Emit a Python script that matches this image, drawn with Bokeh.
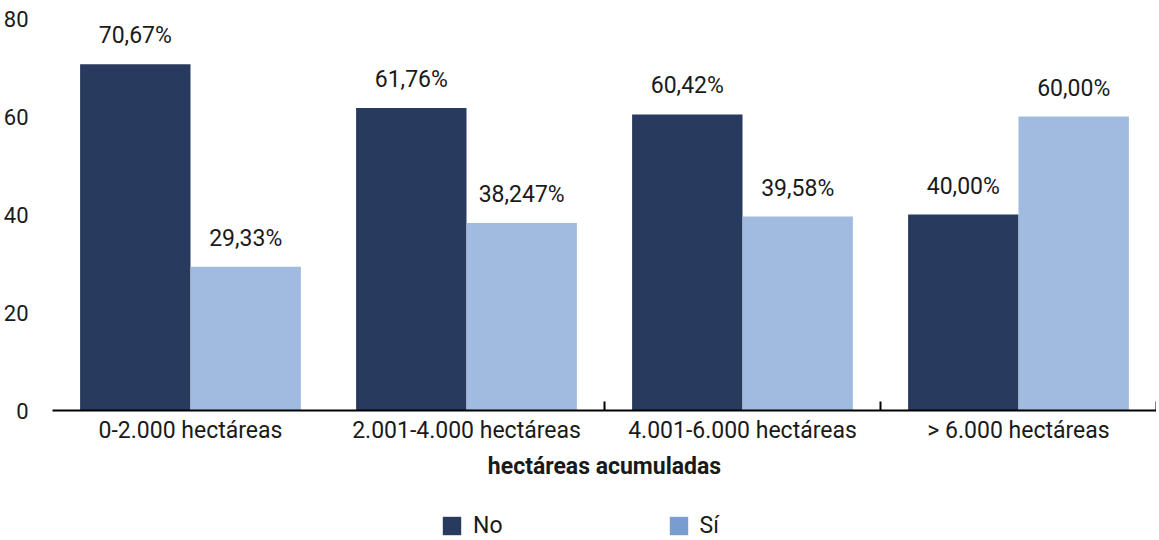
from bokeh.plotting import figure
from bokeh.layouts import column
from bokeh.models import ColumnDataSource, Range1d, FixedTicker, Legend, LegendItem
from bokeh.embed import file_html
from bokeh.resources import INLINE
from bokeh.core.properties import value

categories = ["0-2.000 hectáreas", "2.001-4.000 hectáreas", "4.001-6.000 hectáreas", "> 6.000 hectáreas"]
no_values = [70.67, 61.76, 60.42, 40.00]
si_values = [29.33, 38.24, 39.58, 60.00]
no_labels = ["70,67%", "61,76%", "60,42%", "40,00%"]
si_labels = ["29,33%", "38,247%", "39,58%", "60,00%"]
series_names = ["No", "Sí"]
y_ticks = [0, 20, 40, 60, 80]
x_title = "hectáreas acumuladas"

FONT = "Roboto"
C_NO = "#283b5e"
C_SI = "#a1bbe0"
C_SI_LEG = "#7a9dd0"
TXT = "#1a1a1a"

n = len(categories)
centers = [i + 0.5 for i in range(n)]
bw = 0.4

src_no = ColumnDataSource(dict(x=[c - bw / 2 for c in centers], top=no_values, label=no_labels))
src_si = ColumnDataSource(dict(x=[c + bw / 2 for c in centers], top=si_values, label=si_labels))

p = figure(frame_width=1104, frame_height=392, output_backend="svg", toolbar_location=None,
           x_range=Range1d(0, n), y_range=Range1d(0, 80),
           min_border_left=45, min_border_right=0, min_border_top=18, min_border_bottom=90)
p.outline_line_color = None
p.xgrid.visible = False
p.ygrid.visible = False
p.background_fill_color = "white"

p.vbar(x="x", top="top", width=bw, source=src_no, fill_color=C_NO, line_color=None)
p.vbar(x="x", top="top", width=bw, source=src_si, fill_color=C_SI, line_color=None)

for src in (src_no, src_si):
    p.text(x="x", y="top", text="label", source=src, text_align="center", text_baseline="bottom",
           y_offset=-15, text_font=value(FONT), text_font_size="23px", text_color=TXT)

xa = p.xaxis[0]
xa.ticker = FixedTicker(ticks=centers, minor_ticks=[float(i) for i in range(2, n + 1)])
xa.major_label_overrides = {c: cat for c, cat in zip(centers, categories)}
xa.major_tick_line_color = None
xa.minor_tick_line_color = "black"
xa.minor_tick_line_width = 2
xa.minor_tick_in = 9
xa.minor_tick_out = 0
xa.axis_line_color = "black"
xa.axis_line_width = 2
xa.major_label_standoff = 0
xa.major_label_text_font = FONT
xa.major_label_text_font_size = "23px"
xa.major_label_text_color = TXT
xa.axis_label = x_title
xa.axis_label_text_font = FONT
xa.axis_label_text_font_style = "bold"
xa.axis_label_text_font_size = "23px"
xa.axis_label_text_color = TXT
xa.axis_label_standoff = 6

ya = p.yaxis[0]
ya.ticker = FixedTicker(ticks=y_ticks)
ya.axis_line_color = None
ya.major_tick_line_color = None
ya.minor_tick_line_color = None
ya.major_label_standoff = 18
ya.major_label_text_font = FONT
ya.major_label_text_font_size = "22px"
ya.major_label_text_color = TXT

# legend strip below the chart
lg = figure(width=1149, height=40, output_backend="svg", toolbar_location=None,
            x_range=Range1d(0, n), y_range=Range1d(0, 1),
            min_border_left=0, min_border_right=0, min_border_top=0, min_border_bottom=0)
lg.axis.visible = False
lg.grid.visible = False
lg.outline_line_color = None
r_no = lg.vbar(x="x", top=0, bottom=0, width=bw, source=src_no, fill_color=C_NO, line_color=None)
r_si = lg.vbar(x="x", top=0, bottom=0, width=bw, source=src_si, fill_color=C_SI_LEG, line_color=None)
legend = Legend(items=[LegendItem(label=series_names[0], renderers=[r_no]),
                       LegendItem(label=series_names[1], renderers=[r_si])],
                orientation="horizontal", location=(388, 1),
                glyph_width=23, glyph_height=23, label_standoff=10, spacing=164,
                label_text_font=FONT, label_text_font_size="23px", label_text_color=TXT,
                border_line_color=None, background_fill_alpha=0, padding=0, margin=0)
lg.add_layout(legend, "center")

layout = column(p, lg, spacing=0)
open("out.html", "w").write(file_html(layout, INLINE))
